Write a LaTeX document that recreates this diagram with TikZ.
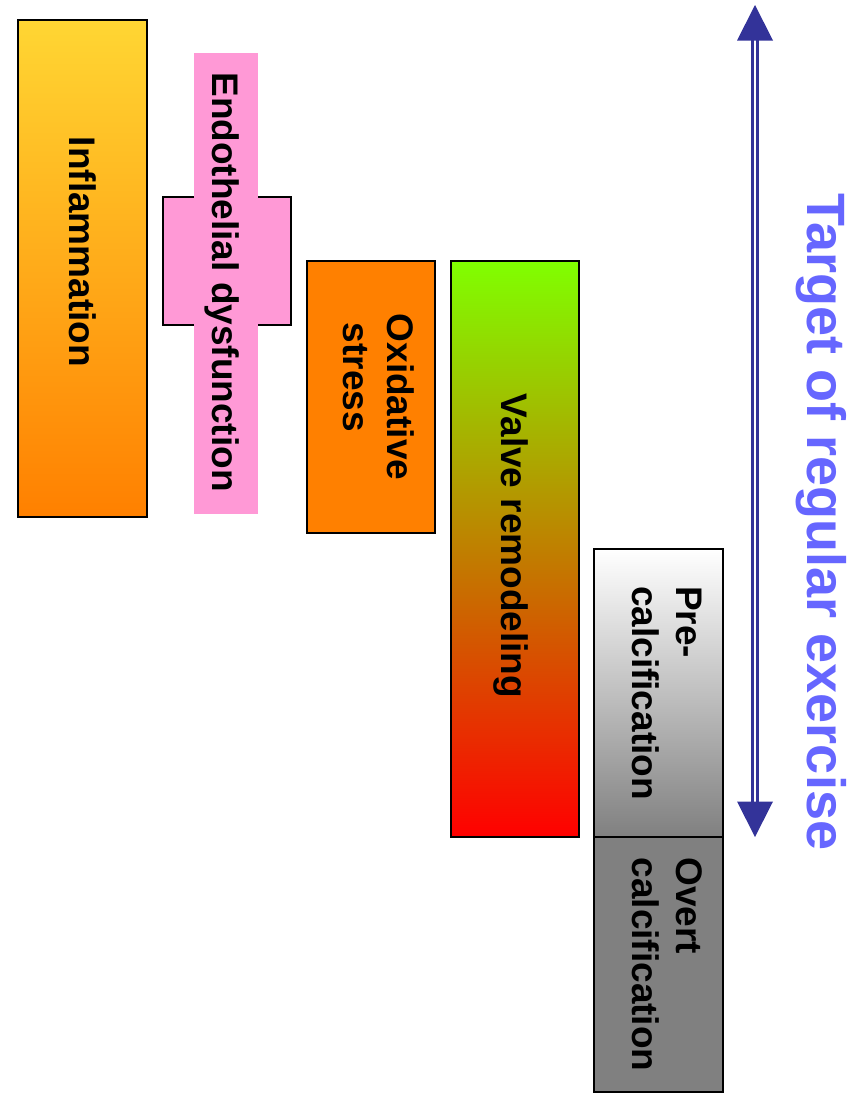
\documentclass[tikz,border=0pt]{standalone}
\usepackage{fontspec}
\setmainfont{Liberation Sans}
\definecolor{inflTop}{HTML}{FFD633}
\definecolor{inflBot}{HTML}{FF8000}
\definecolor{pinkc}{HTML}{FF99D6}
\definecolor{orangec}{HTML}{FF8000}
\definecolor{greenc}{HTML}{80FF00}
\definecolor{redc}{HTML}{FF0000}
\definecolor{grayc}{HTML}{808080}
\definecolor{arrowc}{HTML}{333399}
\definecolor{titlec}{HTML}{6666FF}
\begin{document}
\begin{tikzpicture}[x=1pt,y=-1pt,
  box/.style={draw=black, line width=2pt, rectangle, inner sep=0pt, outer sep=0pt},
  strip/.style={rectangle, inner sep=0pt, outer sep=0pt, fill=pinkc},
  lbl/.style={rotate=-90, font=\bfseries\fontsize{37}{44}\selectfont, inner sep=0pt, align=left, text=black},
  ttl/.style={rotate=-90, font=\bfseries\fontsize{54}{60}\selectfont, inner sep=0pt, text=titlec}]
\useasboundingbox (0,0) rectangle (863,1093);
% boxes
\node[box, top color=inflTop, bottom color=inflBot, minimum width=129pt, minimum height=497pt] (infl) at (82.5,268.5) {};
\node[box, fill=pinkc, minimum width=128pt, minimum height=128pt] (endowide) at (227,261) {};
\node[strip, minimum width=64pt, minimum height=461pt] (endostrip) at (226,283.5) {};
\node[box, fill=orangec, minimum width=128pt, minimum height=272pt] (oxid) at (371,397) {};
\node[box, top color=greenc, bottom color=redc, minimum width=128pt, minimum height=576pt] (valve) at (515,549) {};
\node[box, top color=white, bottom color=grayc, minimum width=129pt, minimum height=288pt] (pre) at (658.5,693) {};
\node[box, fill=grayc, minimum width=129pt, minimum height=255pt] (overt) at (658.5,964.5) {};
% labels
\node[lbl, anchor=base] (inflT) at (69.5,252) {Inflammation};
\node[lbl, anchor=base] (endoT) at (212.5,282) {Endothelial dysfunction};
\node[lbl] (oxidT) at (379,397) {Oxidative\\\hspace*{9pt}stress};
\node[lbl, anchor=base] (valveT) at (501.5,546) {Valve remodeling};
\node[lbl] (preT) at (667.5,693) {Pre-\\calcification};
\node[lbl] (overtT) at (667,964.5) {Overt\\calcification};
% arrow
\coordinate (atop) at (755,5);
\coordinate (abot) at (755,837);
\draw[arrowc, double=white, double distance=2.7pt, line width=2.9pt] ([yshift=-33pt]atop) -- ([yshift=33pt]abot);
\fill[arrowc] (atop) -- ++(18,35.5) -- ++(-36,0) -- cycle;
\fill[arrowc] (abot) -- ++(18,-35.5) -- ++(-36,0) -- cycle;
\node[ttl, anchor=base] (title) at (807,522) {Target of regular exercise};
\end{tikzpicture}
\end{document}
